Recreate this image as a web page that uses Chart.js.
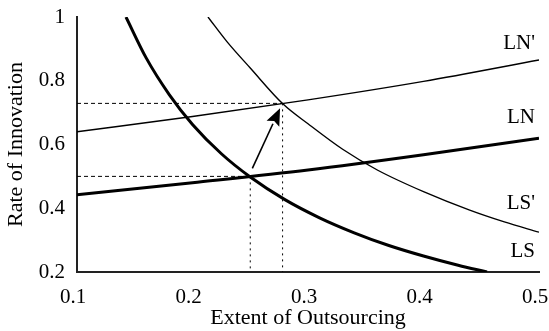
<!DOCTYPE html>
<html>
<head>
<meta charset="utf-8">
<script src="https://cdn.jsdelivr.net/npm/chart.js@4"></script>
<style>
  html, body { margin: 0; padding: 0; background: #fff; }
  #wrap { width: 549px; height: 331px; }
</style>
</head>
<body>
<div id="wrap"><canvas id="outsourcingChart"></canvas></div>
<script>
// tick labels
const xTicks = ['0.1', '0.2', '0.3', '0.4', '0.5'];
const yTicks = ['0.2', '0.4', '0.6', '0.8', '1'];

// curves
const lnPrimeX = [0.1, 0.2, 0.3, 0.4, 0.5];
const lnPrimeY = [0.640, 0.688, 0.740, 0.798, 0.865];

const lnX = [0.1, 0.2, 0.3, 0.4, 0.5];
const lnY = [0.442, 0.480, 0.520, 0.568, 0.620];

const lsX = [0.1424, 0.16, 0.18, 0.2, 0.225, 0.25, 0.28, 0.31, 0.34, 0.37, 0.40, 0.43, 0.455];
const lsY = [1.0, 0.871, 0.756, 0.663, 0.571, 0.498, 0.427, 0.370, 0.323, 0.283, 0.250, 0.221, 0.200];

const lsPrimeX = [0.2134, 0.23, 0.25, 0.2784, 0.30, 0.33, 0.36, 0.40, 0.44, 0.47, 0.5];
const lsPrimeY = [1.0, 0.922, 0.84, 0.727, 0.665, 0.585, 0.52, 0.452, 0.394, 0.357, 0.325];

// equilibrium guide lines (old and new)
const eqOld = { x: 0.25, y: 0.5 };
const eqNew = { x: 0.278, y: 0.729 };

// arrow from old to new equilibrium
const arrowFrom = { x: 0.2518, y: 0.525 };
const arrowTo = { x: 0.2758, y: 0.7136 };

// curve labels
const curveNames = ["LN'", 'LN', "LS'", 'LS'];
const labelX = [0.4965, 0.4965, 0.4965, 0.4965];
const labelY = [0.917, 0.685, 0.415, 0.264];

const serif = '"Liberation Serif", "DejaVu Serif", serif';

function pts(xs, ys) {
    return xs.map((x, i) => ({ x: x, y: ys[i] }));
}

const curveLabelsPlugin = {
    id: 'curveLabels',
    afterDatasetsDraw(chart) {
        const { ctx, scales } = chart;
        const xs = scales.x, ys = scales.y;
        ctx.save();

        // arrow
        const x0 = xs.getPixelForValue(arrowFrom.x), y0 = ys.getPixelForValue(arrowFrom.y);
        const x1 = xs.getPixelForValue(arrowTo.x), y1 = ys.getPixelForValue(arrowTo.y);
        const ang = Math.atan2(y1 - y0, x1 - x0);
        const headLen = 17, headW = 7;
        const bx = x1 - headLen * Math.cos(ang), by = y1 - headLen * Math.sin(ang);
        ctx.strokeStyle = '#000';
        ctx.lineWidth = 1.6;
        ctx.beginPath();
        ctx.moveTo(x0, y0);
        ctx.lineTo(bx, by);
        ctx.stroke();
        ctx.fillStyle = '#000';
        ctx.beginPath();
        ctx.moveTo(x1, y1);
        ctx.lineTo(bx + headW * Math.sin(ang), by - headW * Math.cos(ang));
        ctx.lineTo(bx + 3 * Math.cos(ang), by + 3 * Math.sin(ang));
        ctx.lineTo(bx - headW * Math.sin(ang), by + headW * Math.cos(ang));
        ctx.closePath();
        ctx.fill();

        // labels
        ctx.font = '21px ' + serif;
        ctx.textAlign = 'right';
        ctx.textBaseline = 'middle';
        curveNames.forEach((name, i) => {
            ctx.fillText(name, xs.getPixelForValue(labelX[i]), ys.getPixelForValue(labelY[i]));
        });
        ctx.restore();
    }
};

const solid = (data, w) => ({
    data: data,
    showLine: true,
    borderColor: '#000',
    borderWidth: w,
    pointRadius: 0,
    cubicInterpolationMode: 'monotone',
    fill: false,
});

const guide = (data, dash) => ({
    data: data,
    showLine: true,
    borderColor: '#000',
    borderWidth: 1,
    borderDash: dash,
    pointRadius: 0,
    tension: 0,
    fill: false,
});

const ctx = document.getElementById('outsourcingChart').getContext('2d');
const chart = new Chart(ctx, {
    type: 'scatter',
    data: {
        datasets: [
            guide([{ x: 0.1, y: eqOld.y }, { x: eqOld.x, y: eqOld.y }], [4, 3]),
            guide([{ x: eqOld.x, y: eqOld.y }, { x: eqOld.x, y: 0.2 }], [2, 4]),
            guide([{ x: 0.1, y: eqNew.y }, { x: eqNew.x, y: eqNew.y }], [4, 3]),
            guide([{ x: eqNew.x, y: eqNew.y }, { x: eqNew.x, y: 0.2 }], [2, 4]),
            solid(pts(lnPrimeX, lnPrimeY), 1.4),
            solid(pts(lnX, lnY), 3),
            solid(pts(lsPrimeX, lsPrimeY), 1.4),
            solid(pts(lsX, lsY), 3),
        ],
    },
    options: {
        responsive: true,
        maintainAspectRatio: false,
        animation: false,
        layout: { padding: { top: 17, right: 10, left: 0, bottom: 0 } },
        plugins: {
            legend: { display: false },
            tooltip: { enabled: false },
        },
        scales: {
            x: {
                type: 'linear',
                min: 0.1,
                max: 0.5,
                afterFit: (s) => { s.height = 59; s.paddingLeft = 0; s.paddingRight = 0; },
                afterBuildTicks: (s) => { s.ticks = xTicks.map(v => ({ value: parseFloat(v) })); },
                ticks: {
                    callback: (v) => xTicks.find(t => Math.abs(parseFloat(t) - v) < 1e-6),
                    color: '#000',
                    font: { family: serif, size: 21 },
                    padding: 13,
                    labelOffset: -4,
                    maxRotation: 0,
                },
                grid: { display: false, drawTicks: false },
                border: { display: true, color: '#222', width: 2 },
                title: {
                    display: true,
                    text: 'Extent of Outsourcing',
                    color: '#000',
                    font: { family: serif, size: 22 },
                    padding: { top: 0, bottom: 0 },
                },
            },
            y: {
                type: 'linear',
                min: 0.2,
                max: 1,
                afterFit: (s) => { s.width = 77; s.paddingTop = 0; s.paddingBottom = 0; },
                afterBuildTicks: (s) => { s.ticks = yTicks.map(v => ({ value: parseFloat(v) })); },
                ticks: {
                    callback: (v) => yTicks.find(t => Math.abs(parseFloat(t) - v) < 1e-6),
                    color: '#000',
                    font: { family: serif, size: 21 },
                    padding: 12,
                },
                grid: { display: false, drawTicks: false },
                border: { display: true, color: '#222', width: 2 },
                title: {
                    display: true,
                    text: 'Rate of Innovation',
                    color: '#000',
                    font: { family: serif, size: 22 },
                    padding: { top: 3, bottom: 0 },
                },
            },
        },
    },
    plugins: [curveLabelsPlugin],
});
</script>
</body>
</html>
